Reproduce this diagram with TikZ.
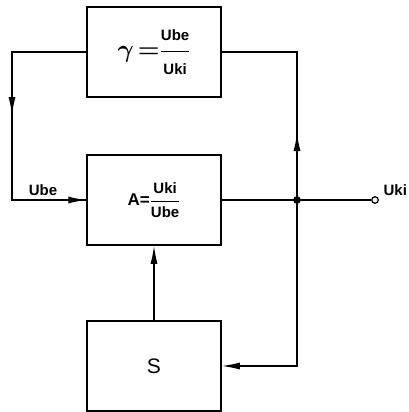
\documentclass[tikz,border=0pt]{standalone}
\usepackage{amsmath}
\usepackage{bm}
\usepackage{fontspec}
\setsansfont{Liberation Sans}
\usetikzlibrary{positioning}
\usetikzlibrary{arrows.meta}
\tikzset{>={Latex[length=18pt,width=7pt]}}
\tikzset{block/.style={draw,line width=1.5pt,minimum width=134pt,minimum height=90pt,inner sep=0pt,font=\sffamily\bfseries\fontsize{17}{19}\selectfont}}
\tikzset{lbl/.style={font=\sffamily\bfseries\fontsize{15}{17}\selectfont,inner sep=0pt}}
\newcommand{\frc}[2]{\ensuremath{\dfrac{\mbox{\sffamily\bfseries\fontsize{15}{17}\selectfont #1}}{\mbox{\sffamily\bfseries\fontsize{15}{17}\selectfont #2}}}}

\begin{document}
\begin{tikzpicture}[x=1pt,y=-1pt,line width=1.3pt]
\useasboundingbox (0,0) rectangle (409,412);

% Blocks
\node[block] (fb) at (154,52) {\fontsize{26}{28}\selectfont$\bm{\gamma}\mkern-2mu\bm{=}$\frc{Ube}{Uki}};
\node[block] (amp) at (154,200) {A=\frc{Uki}{Ube}};
\node[block,font=\sffamily\fontsize{21}{23}\selectfont] (src) at (154,366) {S};

% Branch point and output
\coordinate (dot) at (297,200);
\node[circle,draw,fill=white,inner sep=0pt,minimum size=6.5pt,line width=1.2pt] (out) at (375,200) {};
\node[lbl,anchor=south west] (uki) at (383,196) {Uki};

% Feedback path on the left
\coordinate (ldown) at (12,115);
\draw (fb.west) -| (ldown) |- (amp.west);
\draw[->] (12,95) -- (ldown);
\draw[->] (ldown) |- (amp.west);
\node[lbl] (ube) at (43,190) {Ube};

% Forward path
\draw (amp.east) -- (dot) -- (out.west);

% Feedback path on the right
\coordinate (rup) at (297,133);
\draw (dot) -- (rup) |- (fb.east);
\draw[->] (dot) -- (rup);

% Loop to S
\draw[->] (dot) |- (src.east);
\draw[->] (src.north) -- (amp.south);
\fill (dot) circle (3.8pt);

\end{tikzpicture}
\end{document}
